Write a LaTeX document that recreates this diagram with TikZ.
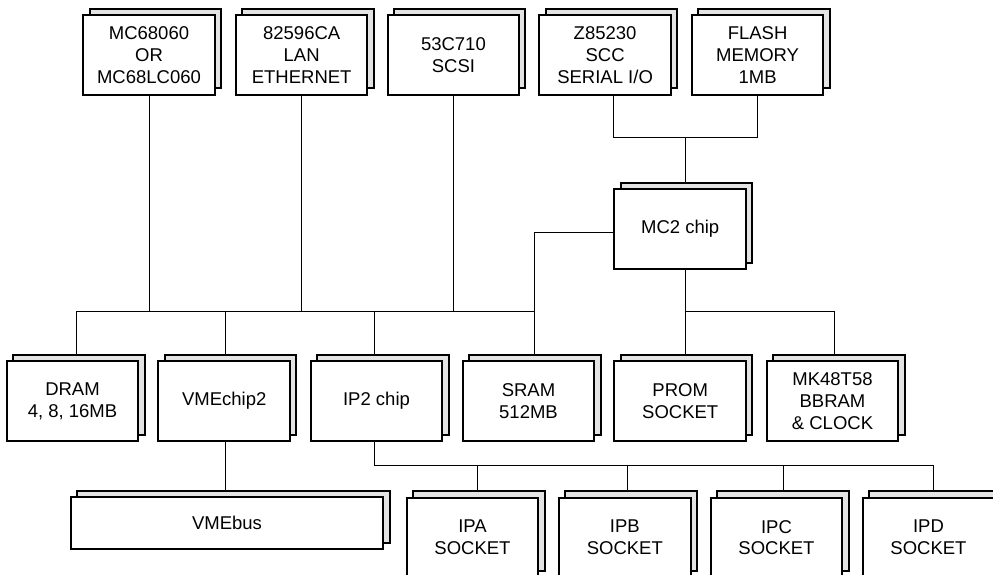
\documentclass[tikz,border=0pt]{standalone}
\usepackage{fontspec}
\setmainfont{Liberation Sans}
\usetikzlibrary{shadows}
\begin{document}
\begin{tikzpicture}[x=1pt,y=-1pt,
  chip/.style={draw, line width=2pt, fill=white, minimum width=131.5pt, minimum height=79.5pt,
    align=center, inner sep=0pt, font=\fontsize{18.5}{21.7}\selectfont,
    general shadow={shadow xshift=6.3pt, shadow yshift=6.3pt, fill=black!11, draw=black, line width=2pt}},
  wire/.style={line width=0.9pt}]
\useasboundingbox (0,0) rectangle (993,574);
% top row
\node[chip] (cpu) at (149.0,55) {MC68060\\OR\\MC68LC060};
\node[chip] (lan) at (301.7,55) {82596CA\\LAN\\ETHERNET};
\node[chip] (scsi) at (453.4,55) {53C710\\SCSI};
\node[chip] (scc) at (605.1,55) {Z85230\\SCC\\SERIAL I/O};
\node[chip] (flash) at (757.6,55) {FLASH\\MEMORY\\1MB};
% middle
\node[chip] (mc2) at (680.2,229.2) {MC2 chip};
% bottom row
\node[chip] (dram) at (72.5,401.2) {DRAM\\4, 8, 16MB};
\node[chip] (vme2) at (224.2,401.2) {VMEchip2};
\node[chip] (ip2) at (376.5,401.2) {IP2 chip};
\node[chip] (sram) at (528.5,401.2) {SRAM\\512MB};
\node[chip] (prom) at (680.2,401.2) {PROM\\SOCKET};
\node[chip] (rtc) at (832.5,401.2) {MK48T58\\BBRAM\\\& CLOCK};
% lowest row
\node[chip, minimum width=312.6pt, minimum height=51.7pt] (vmebus) at (227,523.2) {VMEbus};
\node[chip] (ipa) at (472.5,537.5) {IPA\\SOCKET};
\node[chip] (ipb) at (624.8,537.5) {IPB\\SOCKET};
\node[chip] (ipc) at (776.5,537.5) {IPC\\SOCKET};
\node[chip] (ipd) at (928.5,537.5) {IPD\\SOCKET};
% helper coordinates
\coordinate (rowtop) at ([yshift=6.3pt]dram.north);
\coordinate (mctop) at ([yshift=6.3pt]mc2.north);
\coordinate (vbtop) at ([yshift=6.3pt]vmebus.north);
\coordinate (iptop) at ([yshift=6.3pt]ipa.north);
\coordinate (busL) at (76.7,311);
\coordinate (busR) at (534.3,311);
\coordinate (arm) at (534.3,232.3);
\coordinate (joinT) at (685.7,137.3);
\coordinate (sccdrop) at ([xshift=8.2pt]scc.south);
\coordinate (mcdrop) at (685.7,311.5);
\coordinate (rtcbus) at (834.3,311.5);
\coordinate (ipbus) at (374.3,465);
\coordinate (ipbusR) at (933.3,465);
% upper connections to the main bus
\draw[wire] (cpu.south) -- (cpu.south |- busL);
\draw[wire] (lan.south) -- (lan.south |- busL);
\draw[wire] (scsi.south) -- (scsi.south |- busL);
\draw[wire] (busL) -- (busR);
\draw[wire] (busL) -- (busL |- rowtop);
\draw[wire] (225.7,311) coordinate (d2) -- (d2 |- rowtop);
\draw[wire] (374.3,311) coordinate (d3) -- (d3 |- rowtop);
\draw[wire] (mc2.west |- arm) -- (arm) -- (arm |- rowtop);
% MC2 connections
\draw[wire] (sccdrop) -- (sccdrop |- joinT) -- (flash.south |- joinT) -- (flash.south);
\draw[wire] (joinT) -- (joinT |- mctop);
\draw[wire] (mcdrop |- mc2.south) -- (mcdrop) -- (mcdrop |- rowtop);
\draw[wire] (mcdrop) -- (rtcbus) -- (rtcbus |- rowtop);
% lower connections
\draw[wire] (vbtop -| 225.7,0) coordinate (v1) -- (v1 |- vme2.south);
\draw[wire] (ipbus |- ip2.south) -- (ipbus) -- (ipbusR) -- (ipbusR |- iptop);
\draw[wire] (477.3,465) coordinate (p1) -- (p1 |- iptop);
\draw[wire] (627.3,465) coordinate (p2) -- (p2 |- iptop);
\draw[wire] (783.3,465) coordinate (p3) -- (p3 |- iptop);
\end{tikzpicture}
\end{document}
